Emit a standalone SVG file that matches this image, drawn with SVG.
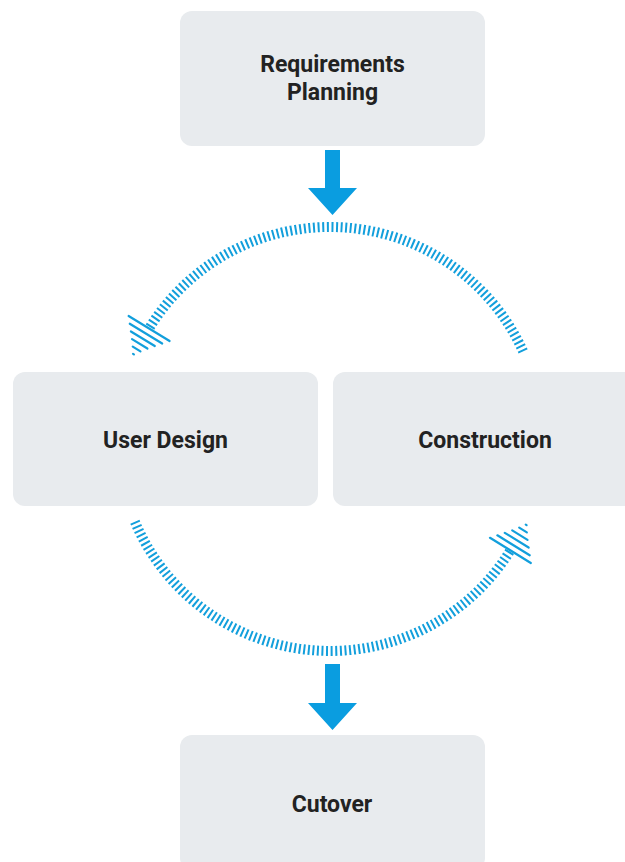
<svg xmlns="http://www.w3.org/2000/svg" width="625" height="862" viewBox="0 0 625 862">
<style>
.box{fill:#e8ebee;}
.lbl{font-family:Roboto,"Liberation Sans",sans-serif;font-weight:700;font-size:23px;fill:#222;text-anchor:middle;}
.arc{fill:none;stroke:#129fdc;stroke-width:10;stroke-dasharray:2 2.6;}
.solid{fill:#0a9de0;}
</style>
<defs>
<marker id="hatch" markerUnits="userSpaceOnUse" orient="auto" markerWidth="40" markerHeight="60" refX="0" refY="30" overflow="visible">
<g stroke="#129fdc" stroke-width="2.2" stroke-linecap="round">
<line x1="0" y1="6" x2="0" y2="54"/>
<line x1="6" y1="11" x2="6" y2="49"/>
<line x1="12" y1="16" x2="12" y2="44"/>
<line x1="18" y1="21" x2="18" y2="39"/>
<line x1="24" y1="25.5" x2="24" y2="34.5"/>
<line x1="30" y1="29.5" x2="30" y2="30.5"/>
</g>
</marker>
</defs>
<g id="connectors">
<path class="solid" d="M325,150 H340 V188 H357 L332.5,215 L308,188 H325 Z"/>
<path class="arc" d="M523.1,351.4 A212,212 0 0 0 149.1,328.5" marker-end="url(#hatch)"/>
<path class="arc" d="M134.9,521.8 A212,212 0 0 0 510.4,550.4" marker-end="url(#hatch)"/>
<path class="solid" d="M325,664 H340 V703 H357 L332.5,730 L308,703 H325 Z"/>
</g>
<g id="requirements">
<rect class="box" x="180" y="11" width="305" height="135" rx="12"/>
<text class="lbl" x="332.5" y="72">Requirements</text>
<text class="lbl" x="332.5" y="100">Planning</text>
</g>
<g id="userdesign">
<rect class="box" x="13" y="372" width="305" height="134" rx="12"/>
<text class="lbl" x="165.5" y="448">User Design</text>
</g>
<g id="construction">
<rect class="box" x="333" y="372" width="305" height="134" rx="12"/>
<text class="lbl" x="485" y="448">Construction</text>
</g>
<g id="cutover">
<rect class="box" x="180" y="735" width="305" height="135" rx="12"/>
<text class="lbl" x="332" y="812">Cutover</text>
</g>
</svg>
